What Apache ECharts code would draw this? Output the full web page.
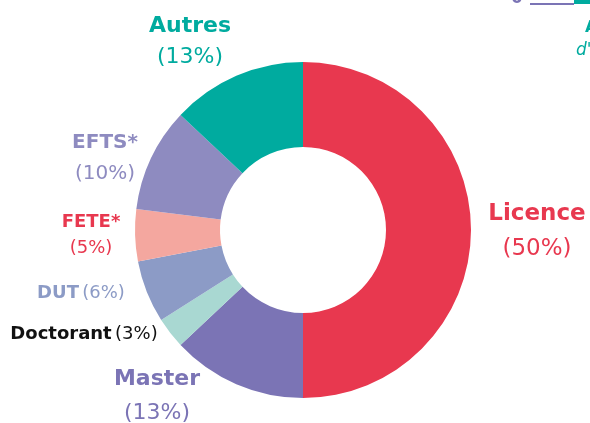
<!DOCTYPE html>
<html>
<head>
<meta charset="utf-8">
<script src="https://cdn.jsdelivr.net/npm/echarts@6/dist/echarts.min.js"></script>
<style>
  html, body { margin: 0; padding: 0; background: #fff; }
  #main { width: 590px; height: 423px; }
</style>
</head>
<body>
<div id="main"></div>
<script>
// diplômes (part en %)
const names = ["Licence", "Master", "Doctorant", "DUT", "FETE*", "EFTS*", "Autres"];
const values = [50, 13, 3, 6, 5, 10, 13];
const colors = ["#E8384F", "#7B74B5", "#A9D8D2", "#8C9BC6", "#F4A79F", "#8E8BC0", "#00AB9F"];
const labelColors = ["#E8384F", "#7B74B5", "#111111", "#8C9BC6", "#E8384F", "#8E8BC0", "#00AB9F"];

// étiquettes : x, y, taille, interligne, une ligne ?
const labelPos = [
  [537, 232, 23, 35, false],
  [157, 396, 22, 34, false],
  [84, 334, 18, 24, true],
  [81, 293, 18, 24, true],
  [91, 235, 18, 26, false],
  [105, 158, 20, 31, false],
  [190, 42, 22, 31, false]
];

const FONT = "DejaVu Sans";
const chart = echarts.init(document.getElementById("main"));

const data = names.map((n, i) => {
  const sz = labelPos[i][2];
  const lh = labelPos[i][3];
  const oneLine = labelPos[i][4];
  return {
    name: n,
    value: values[i],
    itemStyle: { color: colors[i] },
    label: {
      formatter: oneLine ? "{b|{b}} {p|({c}%)}" : "{b|{b}}\n{p|({c}%)}",
      rich: {
        b: { fontWeight: "bold", fontSize: sz, color: labelColors[i], fontFamily: FONT, lineHeight: lh },
        p: { fontSize: sz, color: labelColors[i], fontFamily: FONT, lineHeight: lh }
      }
    }
  };
});

chart.setOption({
  animation: false,
  graphic: [
    { type: "text", left: 511, top: -10, style: { text: "0", fontSize: 17, fontWeight: "bold", fill: "#7B74B5", fontFamily: FONT } },
    { type: "rect", shape: { x: 530, y: 3, width: 44, height: 2 }, style: { fill: "#7B74B5" } },
    { type: "rect", shape: { x: 574, y: 0, width: 16, height: 4 }, style: { fill: "#00AB9F" } },
    { type: "text", left: 585, top: 20, style: { text: "A", fontSize: 16, fontWeight: "bold", fill: "#00AB9F", fontFamily: FONT } },
    { type: "text", left: 576, top: 42, style: { text: "d'", fontSize: 17, fontStyle: "italic", fill: "#00AB9F", fontFamily: FONT } }
  ],
  series: [
    {
      type: "pie",
      center: [303, 230],
      radius: [83, 168],
      startAngle: 90,
      clockwise: true,
      avoidLabelOverlap: false,
      labelLine: { show: false },
      itemStyle: { borderWidth: 0 },
      label: { show: true, position: "outside", align: "center" },
      labelLayout: function (params) {
        const p = labelPos[params.dataIndex];
        return { x: p[0], y: p[1], align: "center", verticalAlign: "middle" };
      },
      emphasis: { disabled: true },
      data: data
    }
  ]
});
</script>
</body>
</html>
